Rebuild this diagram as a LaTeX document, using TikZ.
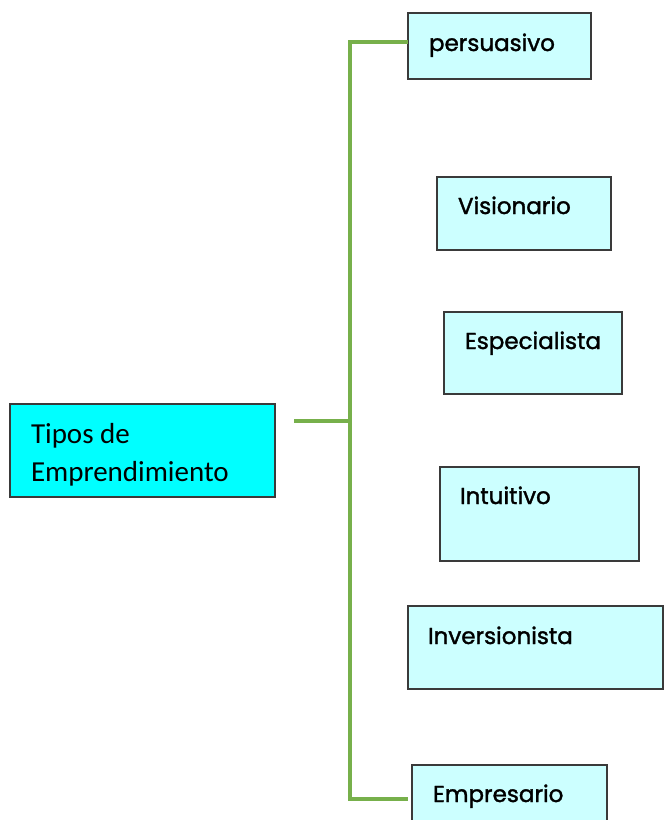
\documentclass[tikz,border=0pt]{standalone}
\usepackage{fontspec}
\setmainfont{Carlito}
\newfontfamily\kidfont[FakeBold=1.5]{Poppins}
\definecolor{rootfill}{HTML}{00FFFF}
\definecolor{kidfill}{HTML}{CCFFFF}
\definecolor{boxline}{HTML}{3A3A3A}
\definecolor{conngreen}{HTML}{77B04B}
\tikzset{
  every node/.style={inner sep=0pt, outer sep=0pt},
  box/.style={draw=boxline, line width=1.3pt, anchor=north west},
  rootbox/.style={box, fill=rootfill},
  kidbox/.style={box, fill=kidfill},
  kidtext/.style={anchor=base west, font=\kidfont\fontsize{23}{27}\selectfont, text=black},
  roottext/.style={anchor=base west, align=left, font=\fontsize{29}{38}\selectfont, text=black},
  conn/.style={draw=conngreen, line width=3.5pt}
}
\begin{document}
\begin{tikzpicture}[x=1pt,y=-1pt]
\clip (0,0) rectangle (664,820);
\useasboundingbox (0,0) rectangle (664,820);
% root
\node[rootbox, minimum width=265pt, minimum height=93pt] (t) at (10,404) {};
\node[roottext] (tt) at ([xshift=21pt,yshift=-77pt]t.north west) {Tipos de\\Emprendimiento};
% children
\node[kidbox, minimum width=183pt, minimum height=66pt] (p) at (408,13) {};
\node[kidtext] (pt) at ([xshift=21pt,yshift=-38pt]p.north west) {persuasivo};
\node[kidbox, minimum width=174pt, minimum height=73pt] (v) at (437,177) {};
\node[kidtext] (vt) at ([xshift=21pt,yshift=-37pt]v.north west) {Visionario};
\node[kidbox, minimum width=178pt, minimum height=82pt] (s) at (444,312) {};
\node[kidtext] (st) at ([xshift=21pt,yshift=-37pt]s.north west) {Especialista};
\node[kidbox, minimum width=199pt, minimum height=94pt] (i) at (440,467) {};
\node[kidtext] (it) at ([xshift=20pt,yshift=-37pt]i.north west) {Intuitivo};
\node[kidbox, minimum width=255pt, minimum height=83pt] (n) at (408,606) {};
\node[kidtext] (nt) at ([xshift=20pt,yshift=-38pt]n.north west) {Inversionista};
\node[kidbox, minimum width=195pt, minimum height=70pt] (e) at (412,765) {};
\node[kidtext] (et) at ([xshift=21pt,yshift=-37pt]e.north west) {Empresario};
% connectors
\coordinate (trunkTop) at (350,42);
\coordinate (trunkMid) at (350,421);
\coordinate (trunkBot) at (350,799);
\draw[conn] ([xshift=19pt]t.east |- trunkMid) -- (trunkMid);
\draw[conn] (p.west |- trunkTop) -- (trunkTop) -- (trunkBot) -- ([xshift=-4pt]e.west |- trunkBot);
\end{tikzpicture}
\end{document}
